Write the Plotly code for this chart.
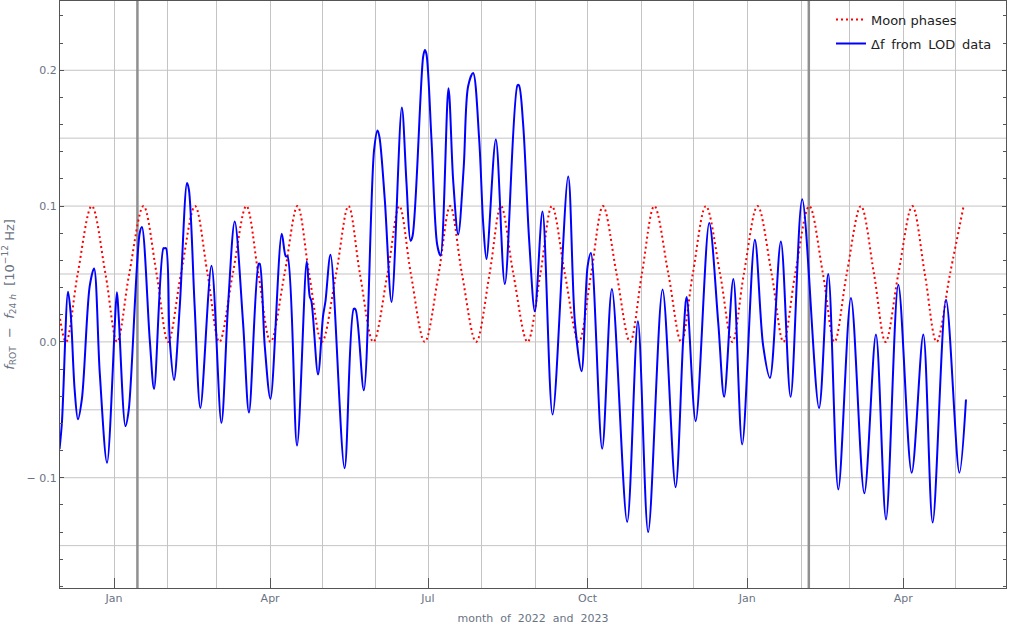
import pandas as pd
import plotly.graph_objects as go

# ---------------- data ----------------
# Moon phase indicator: new moon = 0, quarters = 0.05, full moon = 0.1
moon_dates = [
    "2021-11-27 12:28", "2021-12-04 07:43", "2021-12-11 01:36", "2021-12-19 04:35",
    "2021-12-27 02:24", "2022-01-02 18:33", "2022-01-09 18:11", "2022-01-17 23:48",
    "2022-01-25 13:41", "2022-02-01 05:46", "2022-02-08 13:50", "2022-02-16 16:56",
    "2022-02-23 22:32", "2022-03-02 17:35", "2022-03-10 10:45", "2022-03-18 07:17",
    "2022-03-25 05:37", "2022-04-01 06:24", "2022-04-09 06:48", "2022-04-16 18:55",
    "2022-04-23 11:56", "2022-04-30 20:28", "2022-05-09 00:21", "2022-05-16 04:14",
    "2022-05-22 18:43", "2022-05-30 11:30", "2022-06-07 14:48", "2022-06-14 11:52",
    "2022-06-21 03:11", "2022-06-29 02:52", "2022-07-07 02:14", "2022-07-13 18:37",
    "2022-07-20 14:18", "2022-07-28 17:55", "2022-08-05 11:06", "2022-08-12 01:36",
    "2022-08-19 04:36", "2022-08-27 08:17", "2022-09-03 18:08", "2022-09-10 09:59",
    "2022-09-17 21:52", "2022-09-25 21:54", "2022-10-03 00:14", "2022-10-09 20:55",
    "2022-10-17 17:15", "2022-10-25 10:49", "2022-11-01 06:37", "2022-11-08 11:02",
    "2022-11-16 13:27", "2022-11-23 22:57", "2022-11-30 14:36", "2022-12-08 04:08",
    "2022-12-16 08:56", "2022-12-23 10:17", "2022-12-30 01:20", "2023-01-06 23:08",
    "2023-01-15 02:10", "2023-01-21 20:53", "2023-01-28 15:19", "2023-02-05 18:28",
    "2023-02-13 16:01", "2023-02-20 07:06", "2023-02-27 08:06", "2023-03-07 12:40",
    "2023-03-15 02:08", "2023-03-21 17:23", "2023-03-29 02:32", "2023-04-06 04:34",
    "2023-04-13 09:11", "2023-04-20 04:12", "2023-04-27 21:20", "2023-05-05 17:34",
]
moon_level = [
    0.05, 0.0, 0.05, 0.1,
    0.05, 0.0, 0.05, 0.1,
    0.05, 0.0, 0.05, 0.1,
    0.05, 0.0, 0.05, 0.1,
    0.05, 0.0, 0.05, 0.1,
    0.05, 0.0, 0.05, 0.1,
    0.05, 0.0, 0.05, 0.1,
    0.05, 0.0, 0.05, 0.1,
    0.05, 0.0, 0.05, 0.1,
    0.05, 0.0, 0.05, 0.1,
    0.05, 0.0, 0.05, 0.1,
    0.05, 0.0, 0.05, 0.1,
    0.05, 0.0, 0.05, 0.1,
    0.05, 0.0, 0.05, 0.1,
    0.05, 0.0, 0.05, 0.1,
    0.05, 0.0, 0.05, 0.1,
    0.05, 0.0, 0.05, 0.1,
    0.05, 0.0, 0.05, 0.1,
]

# Delta f from LOD data (days since 2022-01-01, value in 1e-12 Hz)
lod_day = [
    -31.4, -30.0, -26.5, -25.0, -22.7, -20.8, -18.5, -14.0, -11.5, -8.2,
    -4.0, 1.7, 2.7, 6.6, 8.5, 14.8, 16.1, 20.6, 23.1, 28.5,
    29.2, 30.0, 32.1, 34.6, 37.9, 42.1, 43.2, 46.5, 49.8, 56.2,
    61.9, 65.7, 69.6, 74.4, 77.8, 83.4, 84.0, 86.9, 90.2, 96.7,
    99.0, 100.0, 105.5, 111.1, 112.8, 113.8, 117.6, 120.5, 121.9, 124.8,
    132.9, 138.2, 139.2, 144.0, 149.9, 151.9, 153.0, 156.1, 160.0, 165.9,
    168.6, 170.9, 172.1, 178.2, 179.2, 180.1, 183.0, 186.3, 188.2, 192.8,
    195.5, 198.4, 201.6, 204.1, 207.0, 210.5, 212.8, 214.7, 220.1, 225.3,
    232.6, 233.4, 235.8, 239.3, 242.6, 247.0, 252.8, 261.8, 265.7, 269.5,
    273.0, 274.9, 281.4, 287.0, 295.8, 302.0, 307.9, 316.2, 323.7, 328.1,
    330.1, 335.3, 343.1, 348.3, 351.7, 357.0, 362.1, 369.4, 374.2, 378.1,
    384.4, 390.0, 396.7, 406.4, 411.7, 417.5, 424.8, 432.5, 439.2, 445.0,
    452.1, 459.8, 466.5, 471.9, 479.6, 487.3, 491.1,
]
lod_value = [
    -0.079, -0.059, 0.037, 0.0215, -0.035, -0.057, -0.042, 0.041, 0.054, -0.023,
    -0.089, 0.0365, 0.019, -0.062, -0.050, 0.080, 0.0846, 0.0017, -0.0346, 0.069,
    0.069, 0.069, 0.0017, -0.028, 0.026, 0.117, 0.112, 0.026, -0.0486, 0.056,
    -0.0596, 0.026, 0.0887, 0.014, -0.052, 0.0576, 0.0576, -0.003, -0.042, 0.0796,
    0.063, 0.063, -0.0763, 0.0593, 0.0335, 0.030, -0.024, 0.019, 0.030, 0.0642,
    -0.093, 0.0243, 0.024, -0.0356, 0.141, 0.1556, 0.151, 0.1046, 0.0294, 0.1725,
    0.117, 0.0745, 0.078, 0.210, 0.215, 0.212, 0.149, 0.0715, 0.0635, 0.1867,
    0.119, 0.079, 0.129, 0.188, 0.198, 0.149, 0.0875, 0.061, 0.149, 0.0426,
    0.189, 0.189, 0.161, 0.075, 0.0225, 0.096, -0.0535, 0.1218, 0.014, -0.0216,
    0.0556, 0.0654, -0.0787, 0.039, -0.1326, 0.0152, -0.140, 0.0385, -0.107, 0.0017,
    0.033, -0.0584, 0.0875, 0.014, -0.0404, 0.0463, -0.0755, 0.0752, -0.003, -0.0265,
    0.074, -0.0404, 0.105, -0.0486, 0.050, -0.1086, 0.0323, -0.1115, 0.0054, -0.1307,
    0.0421, -0.0963, 0.0054, -0.133, 0.0311, -0.0963, -0.0424,
]

# event markers (thick vertical lines)
event_dates = ["2022-01-14 12:00", "2023-02-05 12:00"]

# axis labels
x_tick_dates = ["2022-01-01", "2022-04-01", "2022-07-01", "2022-10-01", "2023-01-01", "2023-04-01"]
x_tick_text = ["Jan", "Apr", "Jul", "Oct", "Jan", "Apr"]
y_tick_vals = [-0.1, 0.0, 0.1, 0.2]
y_tick_text = ["\u2212 0.1", "0.0", "0.1", "0.2"]
y_grid_vals = [-0.15, -0.1, -0.05, 0.0, 0.05, 0.1, 0.15, 0.2]

x_range = ["2021-11-30 21:00", "2023-05-30 04:00"]
y_range = [-0.1812, 0.251]

# ---------------- figure ----------------
base = pd.Timestamp("2022-01-01")
lod_x = base + pd.to_timedelta(lod_day, unit="D")

FONT = "DejaVu Sans"
GRID = "#c4c4c4"
AXIS = "#555555"
LABEL = "#6a7383"
SP = "\u00a0"

fig = go.Figure()
fig.add_trace(go.Scatter(
    x=pd.to_datetime(moon_dates), y=moon_level, mode="lines",
    name="Moon phases", legend="legend",
    line=dict(color="#ff0000", width=2, dash="2px,3px", shape="spline", smoothing=1),
))
fig.add_trace(go.Scatter(
    x=lod_x, y=lod_value, mode="lines",
    name="\u0394f\u2009 from\u2009 LOD\u2009 data", legend="legend2",
    line=dict(color="#0000ff", width=2, shape="spline", smoothing=0.9),
))

for yv in y_grid_vals:
    fig.add_shape(type="line", xref="paper", x0=0, x1=1, yref="y", y0=yv, y1=yv,
                  line=dict(color=GRID, width=1), layer="below")
for d in event_dates:
    fig.add_shape(type="line", xref="x", x0=d, x1=d, yref="paper", y0=0, y1=1,
                  line=dict(color="#909090", width=2.5), layer="between")

legend_style = dict(xanchor="left", yanchor="top", bgcolor="rgba(0,0,0,0)", borderwidth=0,
                    font=dict(family=FONT, size=13, color="#222222"))

fig.update_layout(
    width=1011, height=626,
    margin=dict(l=60, r=5, t=1, b=38, autoexpand=False),
    paper_bgcolor="white", plot_bgcolor="white",
    font=dict(family=FONT, size=11, color=LABEL),
    showlegend=True,
    legend=dict(x=0.815, y=0.994, **legend_style),
    legend2=dict(x=0.815, y=0.953, **legend_style),
    xaxis=dict(
        type="date", range=x_range, automargin=False,
        tickmode="array", tickvals=x_tick_dates, ticktext=x_tick_text,
        ticks="inside", ticklen=10, tickcolor=AXIS, tickwidth=1,
        showgrid=True, gridcolor=GRID, gridwidth=1,
        minor=dict(tickmode="linear", tick0="2022-01-01", dtick="M1",
                   showgrid=True, gridcolor=GRID, gridwidth=1, ticks=""),
        showline=True, linecolor=AXIS, linewidth=1, mirror=True,
        zeroline=False,
        tickfont=dict(family=FONT, size=11, color=LABEL),
        title=dict(text="month" + SP + " of" + SP + " 2022" + SP + " and" + SP + " 2023",
                   font=dict(family=FONT, size=11, color=LABEL), standoff=10),
    ),
    yaxis=dict(
        range=y_range, automargin=False,
        tickmode="array", tickvals=y_tick_vals, ticktext=y_tick_text,
        ticks="inside", ticklen=4, tickcolor=AXIS, tickwidth=1,
        minor=dict(tickmode="linear", tick0=0, dtick=0.02, ticks="inside",
                   ticklen=3, tickcolor=AXIS, showgrid=False),
        showgrid=False, zeroline=False,
        showline=True, linecolor=AXIS, linewidth=1, mirror="ticks",
        tickfont=dict(family=FONT, size=11, color=LABEL),
        title=dict(
            text="<i>f</i><sub>ROT</sub>" + SP + " \u2212" + SP + " <i>f</i><sub>24 <i>h</i></sub>"
                 + SP + " [10<sup>\u221212</sup>" + SP + "Hz]",
            font=dict(family=FONT, size=13, color=LABEL), standoff=9),
    ),
)

fig.write_html(
    "out.html",
    config={"displayModeBar": False},
    post_script="document.body.style.margin='0px';document.body.style.overflow='hidden';",
)
